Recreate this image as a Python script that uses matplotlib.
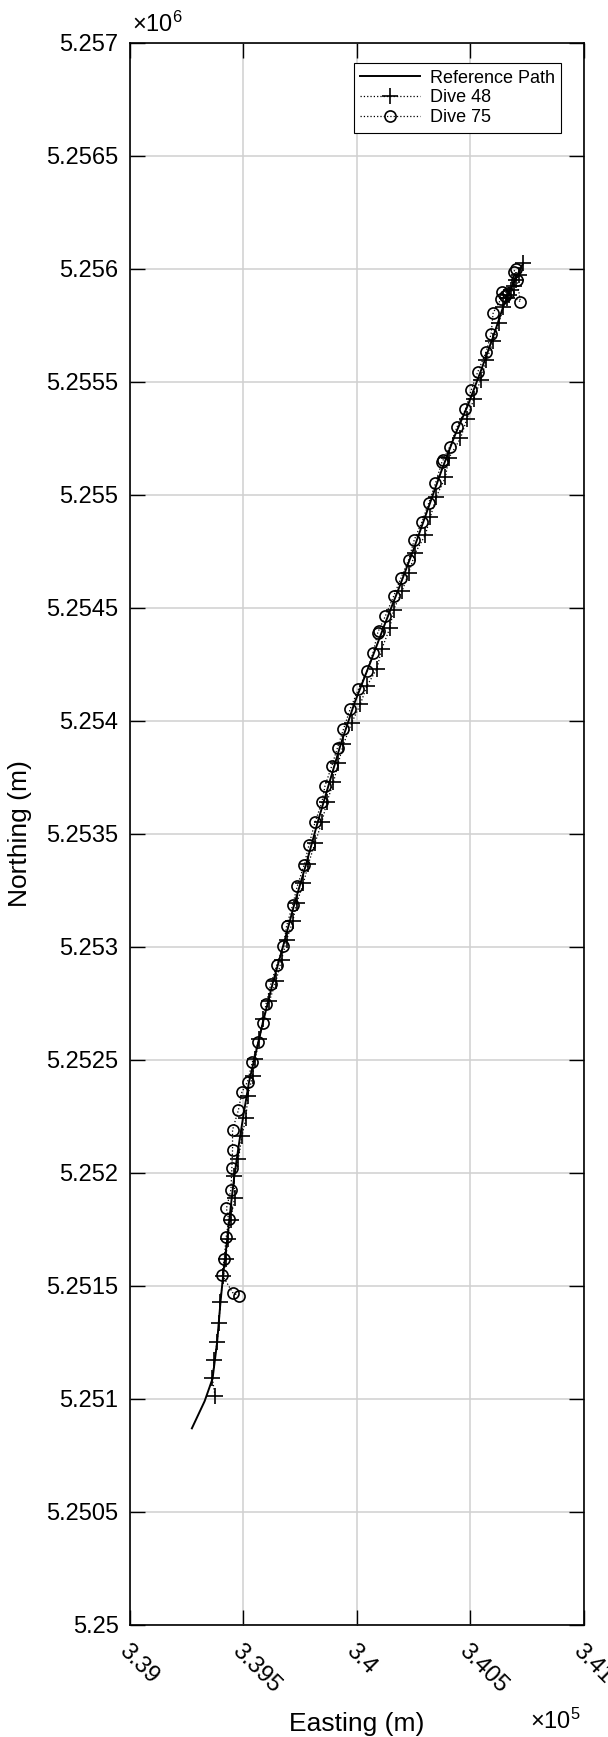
import numpy as np
import matplotlib
matplotlib.use("Agg")
import matplotlib.pyplot as plt

plt.rcParams['font.family'] = ['Liberation Sans', 'DejaVu Sans']
plt.rcParams['mathtext.fontset'] = 'custom'
plt.rcParams['mathtext.rm'] = 'Liberation Sans'
plt.rcParams['mathtext.it'] = 'Liberation Sans:italic'

# reference track (easting, northing in m)
ref_e = [339274, 339330, 339365, 339385, 339400, 339415, 339430, 339445, 339460,
         339480, 339500, 339525, 339555, 339590, 339630, 339680, 339725, 339775,
         339830, 339880, 339930, 339990, 340060, 340120, 340190, 340250, 340310,
         340370, 340430, 340490, 340550, 340600, 340650, 340700, 340732]
ref_n = [5250870, 5250990, 5251090, 5251250, 5251430, 5251580, 5251710, 5251850, 5251980,
         5252120, 5252250, 5252400, 5252530, 5252680, 5252840, 5253020, 5253190, 5253360,
         5253560, 5253730, 5253900, 5254080, 5254260, 5254420, 5254600, 5254760, 5254930,
         5255100, 5255260, 5255400, 5255560, 5255700, 5255850, 5255960, 5256025]

# dive 48 fixes
d48_e = [339376, 339364, 339373, 339385, 339394, 339398, 339413, 339424, 339431, 339444,
         339462, 339460, 339479, 339494, 339512, 339520, 339541, 339552, 339571, 339588,
         339615, 339644, 339669, 339691, 339718, 339735, 339765, 339787, 339816, 339846,
         339868, 339897, 339919, 339941, 339978, 340015, 340044, 340088, 340110, 340145,
         340162, 340199, 340228, 340257, 340302, 340324, 340350, 340390, 340404, 340456,
         340485, 340515, 340545, 340570, 340600, 340625, 340645, 340660, 340668, 340680,
         340690, 340700, 340712, 340732]
d48_n = [5251013, 5251092, 5251172, 5251254, 5251338, 5251431, 5251544, 5251620, 5251706, 5251791,
         5251889, 5251985, 5252062, 5252162, 5252243, 5252340, 5252429, 5252503, 5252591, 5252680,
         5252760, 5252849, 5252944, 5253032, 5253113, 5253194, 5253282, 5253368, 5253460, 5253552,
         5253640, 5253728, 5253816, 5253897, 5253993, 5254073, 5254154, 5254231, 5254319, 5254410,
         5254493, 5254574, 5254655, 5254743, 5254824, 5254904, 5254993, 5255078, 5255162, 5255250,
         5255338, 5255425, 5255510, 5255595, 5255680, 5255760, 5255830, 5255870, 5255885, 5255905,
         5255925, 5255950, 5255975, 5256025]

# dive 75 fixes
d75_e = [339482, 339453, 339408, 339416, 339425, 339436, 339426, 339446, 339450, 339453,
         339453, 339479, 339494, 339519, 339540, 339566, 339585, 339600, 339621, 339647,
         339677, 339691, 339718, 339738, 339768, 339789, 339816, 339846, 339860, 339890,
         339915, 339941, 339971, 340007, 340044, 340071, 340092, 340096, 340125, 340162,
         340194, 340228, 340253, 340287, 340316, 340346, 340375, 340380, 340409, 340441,
         340478, 340503, 340532, 340569, 340591, 340600, 340635, 340650, 340640, 340665,
         340720, 340705, 340690, 340700]
d75_n = [5251455, 5251471, 5251548, 5251620, 5251715, 5251795, 5251843, 5251926, 5252022, 5252103,
         5252191, 5252279, 5252357, 5252404, 5252490, 5252580, 5252665, 5252746, 5252834, 5252918,
         5253006, 5253094, 5253187, 5253270, 5253363, 5253450, 5253552, 5253640, 5253713, 5253802,
         5253882, 5253963, 5254054, 5254140, 5254220, 5254301, 5254390, 5254400, 5254463, 5254552,
         5254632, 5254713, 5254802, 5254882, 5254963, 5255051, 5255147, 5255155, 5255213, 5255301,
         5255378, 5255463, 5255544, 5255632, 5255713, 5255806, 5255868, 5255880, 5255900, 5255895,
         5255855, 5255951, 5255988, 5256000]

fig = plt.figure(figsize=(6.08, 17.37), dpi=100)
ax = fig.add_axes([0.2132, 0.0645, 0.7474, 0.9108])

ax.plot(ref_e, ref_n, '-', color='black', lw=1.4, label='Reference Path', zorder=3)
ax.plot(d48_e, d48_n, ':', color='black', lw=0.9, marker='+', ms=12, mew=1.2,
        label='Dive 48', zorder=4)
ax.plot(d75_e, d75_n, ':', color='black', lw=0.9, marker='o', ms=8, mew=1.2,
        mfc='none', label='Dive 75', zorder=4)

ax.set_xlim(339000, 341000)
ax.set_ylim(5250000, 5257000)

xt = np.arange(339000, 341001, 500)
yt = np.arange(5250000, 5257001, 500)
ax.set_xticks(xt)
ax.set_yticks(yt)
ax.set_xticklabels(['{:g}'.format(round(v / 1e5, 6)) for v in xt],
                   rotation=-45, ha='left', va='top', rotation_mode='anchor')
ax.set_yticklabels(['{:g}'.format(round(v / 1e6, 7)) for v in yt])

ax.tick_params(direction='in', length=11, width=1.0, top=True, right=True,
               labelsize=17, pad=8)
ax.tick_params(axis='x', pad=11)
for s in ax.spines.values():
    s.set_linewidth(1.2)

ax.grid(True, color='#d0d0d0', lw=1.1, zorder=0)
ax.set_axisbelow(True)

ax.text(0.006, 1.004, r'$\times\mathregular{10^{6}}$', transform=ax.transAxes,
        ha='left', va='bottom', fontsize=17)
fig.text(581 / 608, 0.002, r'$\times\mathregular{10^{5}}$', ha='right', va='bottom',
         fontsize=17)

ax.set_xlabel('Easting (m)', fontsize=19)
ax.xaxis.set_label_coords(0.5, -0.055)
ax.set_ylabel('Northing (m)', fontsize=19)
ax.yaxis.set_label_coords(-0.215, 0.5)

leg = ax.legend(loc='upper right', bbox_to_anchor=(0.9494, 0.987), borderaxespad=0,
                fontsize=13, fancybox=False, framealpha=1, edgecolor='black',
                handlelength=3.3, handletextpad=0.55, borderpad=0.35, labelspacing=0.15)
leg.get_frame().set_linewidth(0.8)

fig.savefig('out.png', dpi=100)
